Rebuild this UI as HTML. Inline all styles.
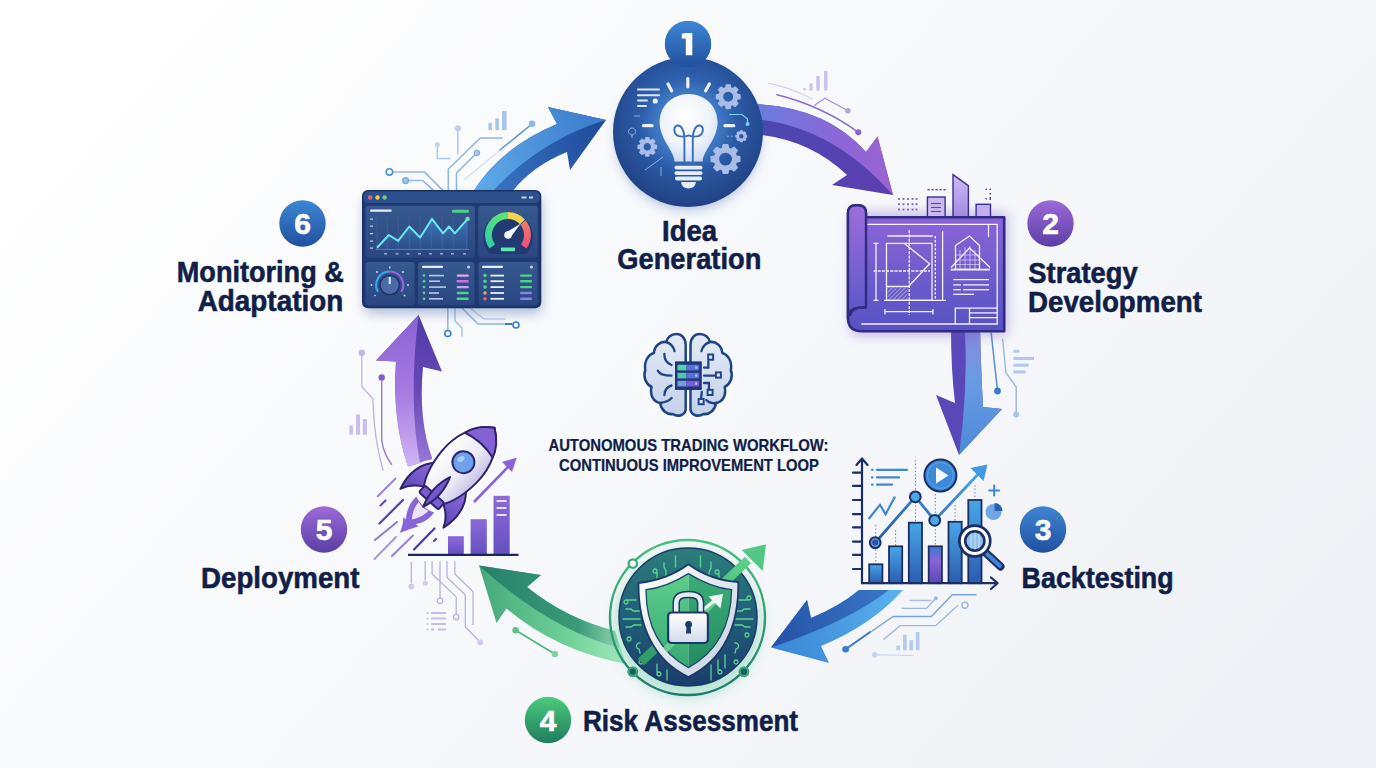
<!DOCTYPE html>
<html><head><meta charset="utf-8"><title>Autonomous Trading Workflow</title>
<style>
html,body{margin:0;padding:0;width:1376px;height:768px;overflow:hidden;background:#f4f6f9;}
svg{display:block;}
text{font-family:"Liberation Sans",sans-serif;font-weight:bold;}
</style></head>
<body>
<svg width="1376" height="768" viewBox="0 0 1376 768">
<defs>
  <linearGradient id="bg" x1="0" y1="0.25" x2="1" y2="0.75">
    <stop offset="0" stop-color="#ffffff"/>
    <stop offset="0.3" stop-color="#f9fafc"/>
    <stop offset="0.7" stop-color="#f4f6f9"/>
    <stop offset="1" stop-color="#eef1f5"/>
  </linearGradient>
  <radialGradient id="bgGlow" cx="0.5" cy="0.5" r="0.5">
    <stop offset="0" stop-color="#ffffff" stop-opacity="0.0"/>
    <stop offset="1" stop-color="#ffffff" stop-opacity="0"/>
  </radialGradient>
  <filter id="shadow" x="-30%" y="-30%" width="160%" height="160%">
    <feGaussianBlur stdDeviation="6"/>
  </filter>
  <filter id="blur2" x="-30%" y="-30%" width="160%" height="160%">
    <feGaussianBlur stdDeviation="2"/>
  </filter>
  <linearGradient id="badgeBlue" x1="0" y1="0" x2="0" y2="1">
    <stop offset="0" stop-color="#3d86d4"/><stop offset="1" stop-color="#22509f"/>
  </linearGradient>
  <linearGradient id="badgePurple" x1="0" y1="0" x2="0" y2="1">
    <stop offset="0" stop-color="#9c6ad8"/><stop offset="1" stop-color="#5a3ea6"/>
  </linearGradient>
  <linearGradient id="badgeGreen" x1="0" y1="0" x2="0" y2="1">
    <stop offset="0" stop-color="#4ccb7c"/><stop offset="1" stop-color="#1f7d5e"/>
  </linearGradient>
  <radialGradient id="ideaFill" cx="0.5" cy="0.42" r="0.62">
    <stop offset="0" stop-color="#3a78c8"/>
    <stop offset="0.5" stop-color="#2c5daa"/>
    <stop offset="1" stop-color="#1e3d7c"/>
  </radialGradient>
  <linearGradient id="a2top" x1="0" y1="0" x2="1" y2="0">
    <stop offset="0" stop-color="#6a7ee0"/><stop offset="0.6" stop-color="#8b67d6"/><stop offset="1" stop-color="#9a63d2"/>
  </linearGradient>
  <linearGradient id="a3right" x1="0" y1="0" x2="0" y2="1">
    <stop offset="0" stop-color="#8a88dc"/><stop offset="0.4" stop-color="#6a9be2"/><stop offset="1" stop-color="#4a8ad8"/>
  </linearGradient>
  <linearGradient id="a5low" x1="1" y1="0" x2="0" y2="0">
    <stop offset="0" stop-color="#a8e8c0"/><stop offset="0.35" stop-color="#72d49a"/><stop offset="1" stop-color="#45a87a"/>
  </linearGradient>
  <linearGradient id="a5top" x1="1" y1="0" x2="0" y2="0">
    <stop offset="0" stop-color="#8fd6b0"/><stop offset="0.3" stop-color="#3a9a78"/><stop offset="1" stop-color="#25806a"/>
  </linearGradient>
  <linearGradient id="a6left" x1="0" y1="1" x2="0" y2="0">
    <stop offset="0" stop-color="#d0b4f4"/><stop offset="0.5" stop-color="#a57ae0"/><stop offset="1" stop-color="#8a62d4"/>
  </linearGradient>
  <linearGradient id="a6right" x1="0" y1="1" x2="0" y2="0">
    <stop offset="0" stop-color="#9a7ad8"/><stop offset="0.5" stop-color="#6648b8"/><stop offset="1" stop-color="#4f3aa8"/>
  </linearGradient>
</defs>
<!-- background -->
<rect x="0" y="0" width="1376" height="768" fill="url(#bg)"/>

<g fill="none" stroke="#8fb6e4" stroke-width="1.5" stroke-linecap="round" stroke-linejoin="round"><path d="M464.7,179.4 L532.1,123.8" opacity="0.35"/><path d="M532.1,123.8 L500,150" stroke="#6a9ad8"/><path d="M476.9,152.9 L456.5,173 L456.5,190"/><path d="M502,138 L480.2,138 L448.3,169.3 L448.3,190"/><path d="M457.9,128.3 L457.9,153.8" opacity="0.7"/><path d="M437.3,144.7 L437.3,158.4 L450,158.4" opacity="0.7"/><path d="M389.4,171.9 L424.4,171.9 L443,190.6"/><path d="M405.6,180.6 L422.8,180.6 L433.8,190.6"/><path d="M447.8,308 L447.8,330"/><path d="M455,308 L455,321 L462,328 L462,336" opacity="0.8"/><path d="M462,308 L478,324 L512,324"/><path d="M470,308 L484,319 L505,319" opacity="0.6"/></g>
<g fill="#a8c6ec"><rect x="488.4" y="122.8" width="3.6" height="7.3"/><rect x="495.3" y="118.3" width="3.6" height="11.8"/><rect x="502" y="111" width="4.6" height="19.1"/></g>
<circle cx="532.1" cy="123.8" r="3.3" fill="#8fb8e8"/><circle cx="476.9" cy="152.9" r="2.8" fill="#a8c6ec" stroke="#7aa6dc" stroke-width="1"/><circle cx="457.9" cy="128.3" r="3" fill="#b8d0ee"/><circle cx="437.3" cy="144.7" r="2.6" fill="#c4d8f0"/>
<g fill="#ffffff" stroke="#4a90d8" stroke-width="1.6"><circle cx="389.4" cy="171.9" r="3.2"/><circle cx="405.6" cy="180.6" r="2.8" fill="#a8c8ec" stroke="#7aaee0"/></g>
<g fill="#ffffff" stroke="#3a7ad0" stroke-width="1.6"><circle cx="447.8" cy="333.5" r="3"/><circle cx="516" cy="325" r="3"/></g>
<path d="M505,324 L512,324" stroke="#3a7ad0" stroke-width="2"/>
<g fill="#cbc3ec"><rect x="809.4" y="83.3" width="3.2" height="7.3"/><rect x="816.3" y="76" width="3.5" height="14.6"/><rect x="824" y="70.8" width="3.5" height="19.8"/><circle cx="804.6" cy="89.2" r="1.4"/></g>
<g fill="none" stroke-linecap="round"><path d="M768.8,83.3 Q792,88 812.5,99" stroke="#c8c4e8" stroke-width="1.3" opacity="0.8"/><path d="M777,94.8 Q822,106 858.3,132.3" stroke="#8a6ad0" stroke-width="1.6"/><path d="M814.6,105.2 L825,98.3 L847.9,110.8" stroke="#a890dc" stroke-width="1.3"/></g>
<circle cx="858.3" cy="132.3" r="3" fill="#8a62d0"/><circle cx="847.9" cy="110.8" r="2.8" fill="#b8a4e4"/>
<g fill="none" stroke-linecap="round"><path d="M991.2,332.9 Q994,360 997.5,390.2" stroke="#5a8ed8" stroke-width="1.5"/><path d="M1002.7,339.2 L1005.8,372.5 L1016.2,387 L1016.2,414" stroke="#9ab8e4" stroke-width="1.4"/></g>
<circle cx="997.5" cy="391" r="3.4" fill="#3a7ad0"/><circle cx="1016.2" cy="414.5" r="3" fill="#a8c4ea"/>
<g fill="#b2c8ec"><rect x="1013.5" y="349.6" width="5.9" height="3.1"/><rect x="1013.5" y="356.9" width="20.5" height="3.1"/><rect x="1013.5" y="363.7" width="15.2" height="3"/><rect x="1013.5" y="370.4" width="12.1" height="3.1"/></g>
<g fill="none" stroke-linecap="round" stroke-linejoin="round"><path d="M845.6,649.3 L893,616.5 L931.3,616.5 L952.3,594.7 L976,594.7" stroke="#7aa4dc" stroke-width="1.4"/><path d="M845.6,649.3 L870,632" stroke="#3a7ad0" stroke-width="1.8"/><path d="M902,608.3 L926.7,608.3 L935.9,598.3" stroke="#9ab8e4" stroke-width="1.3"/><path d="M884,639.3 L900.3,625.6 L935.9,625.6 L957.7,605.6" stroke="#9ab8e4" stroke-width="1.3"/><path d="M910,600.5 L931,600.5" stroke="#a8c0e6" stroke-width="1.3"/><path d="M878,654.8 L913,655.5" stroke="#c8d6ee" stroke-width="1.2"/></g>
<circle cx="845.6" cy="649.3" r="3.3" fill="#3a7ad0"/><circle cx="965" cy="605.2" r="3" fill="#ffffff" stroke="#9ab8e4" stroke-width="1.4"/><circle cx="935.9" cy="598.3" r="2" fill="#9ab8e4"/><circle cx="874.8" cy="654.8" r="2.8" fill="#c4d4ee"/>
<g fill="#b4cbea"><rect x="896.3" y="645.7" width="3.7" height="4.6"/><rect x="903" y="634.8" width="3.7" height="15.5"/><rect x="909.4" y="640.2" width="3.6" height="10.1"/><rect x="915.8" y="632" width="3.7" height="18.3"/></g>
<line x1="515.6" y1="630.3" x2="554.8" y2="654" stroke="#4cb87a" stroke-width="1.6"/><circle cx="515.6" cy="630.3" r="3.2" fill="#5cc487"/><circle cx="554.8" cy="654" r="3.2" fill="#7ad4a0"/>
<g fill="none" stroke-linecap="round"><path d="M361.8,353 L361.8,386.8 L372.8,398.5 Q374,440 383,470" stroke="#c0b0e4" stroke-width="1.3"/><path d="M381.7,377.4 L381.7,440.7 Q384,455 391.6,464.2" stroke="#9a7ad4" stroke-width="1.4"/></g>
<circle cx="361.8" cy="352.8" r="3.2" fill="#c4b4e8"/><circle cx="381.7" cy="377.4" r="3.2" fill="#8060c8"/>
<g fill="#cabfea"><rect x="349.4" y="425.5" width="3.5" height="9.3"/><rect x="356" y="414.4" width="4" height="20.4"/><rect x="362.7" y="419.1" width="4.3" height="15.7"/></g>
<g fill="none" stroke="#b8b2e0" stroke-width="1.3" stroke-linejoin="round"><path d="M411.3,562 L411.3,583"/><path d="M425.2,561 L425.2,580.5"/><path d="M432.1,561 L432.1,574 L456.2,596.9 L456.2,614"/><path d="M440,561 L440,598"/><path d="M447,561 L447,577.3 L465.3,595 L465.3,626.8 L478.5,640.5"/><path d="M454.9,561 L454.9,574 L473.1,591.7 L473.1,624.9"/></g>
<g fill="#cfcaee"><circle cx="411.3" cy="586.5" r="2.9"/><circle cx="425.2" cy="583.2" r="2.5"/><circle cx="480.3" cy="642.4" r="2.9"/></g>
<g fill="#ffffff" stroke="#b8b2e0" stroke-width="1.3"><circle cx="440" cy="600.8" r="2.7"/><circle cx="456.2" cy="617" r="2.7"/></g>
<g fill="#c4bee6"><circle cx="427.5" cy="613" r="1.1"/><rect x="431" y="612" width="15" height="2"/><circle cx="427.5" cy="618.5" r="1.1"/><rect x="431" y="617.5" width="15" height="2"/><circle cx="427.5" cy="624" r="1.1"/><rect x="431" y="623" width="15" height="2"/><circle cx="427.5" cy="629.5" r="1.1"/><rect x="431" y="628.5" width="3" height="2"/><rect x="438" y="628.5" width="8" height="2"/></g>
<!-- ===== ARROWS ===== -->
<g id="arrows">
  <defs>
    <linearGradient id="a1dark" gradientUnits="userSpaceOnUse" x1="480" y1="190" x2="600" y2="125"><stop offset="0" stop-color="#3a78c8"/><stop offset="1" stop-color="#1f4b9a"/></linearGradient>
    <linearGradient id="a1light" gradientUnits="userSpaceOnUse" x1="480" y1="190" x2="600" y2="115"><stop offset="0" stop-color="#5eaaea"/><stop offset="1" stop-color="#3b7ccc"/></linearGradient>
    <linearGradient id="a2dark" gradientUnits="userSpaceOnUse" x1="752" y1="130" x2="890" y2="190"><stop offset="0" stop-color="#4c48b0"/><stop offset="1" stop-color="#5a3eb0"/></linearGradient>
    <linearGradient id="a4dark" gradientUnits="userSpaceOnUse" x1="890" y1="590" x2="775" y2="645"><stop offset="0" stop-color="#3a76c8"/><stop offset="1" stop-color="#2452a6"/></linearGradient>
    <linearGradient id="a4light" gradientUnits="userSpaceOnUse" x1="900" y1="590" x2="775" y2="650"><stop offset="0" stop-color="#5ab2ec"/><stop offset="1" stop-color="#3a86d6"/></linearGradient>
  </defs>
  <!-- arrow 1 blue: dashboard -> idea -->
  <path d="M473,192 Q500,148 557,124 L548,107 L606,120 L570,170 L567,152 Q532,166 512,192 Z" fill="url(#a1dark)"/>
  <path d="M473,192 Q500,148 557,124 L548,107 L606,120 Q540,140 492,192 Z" fill="url(#a1light)"/>
  <!-- arrow 2 purple: idea -> strategy -->
  <path d="M752,104 Q825,106 866,152 L877.5,136.5 L893,195 L832,185 L847,175 Q808,138 752,134 Z" fill="url(#a2dark)"/>
  <path d="M752,104 Q825,106 866,152 L877.5,136.5 L893,195 Q830,124 752,119 Z" fill="url(#a2top)"/>
  <!-- arrow 3: strategy -> backtesting -->
  <path d="M951,328 Q951,370 955,403 L936,395 L959,455 L1002,409 L983,407 Q981,370 980,328 Z" fill="#5a48b8"/>
  <path d="M965,328 Q968,390 959,455 L1002,409 L983,407 Q981,370 980,328 Z" fill="url(#a3right)"/>
  <!-- arrow 4 blue: backtesting -> risk -->
  <path d="M859,590 Q840,606 811,618 L807,600 L771,647.5 L829,663 L821,646 Q872,625 903,590 Z" fill="url(#a4light)"/>
  <path d="M859,590 Q840,606 811,618 L807,600 L771,647.5 Q848,622 889,590 Z" fill="url(#a4dark)"/>
  <!-- arrow 5 green: risk -> deployment -->
  <path d="M615,631 Q565,618 527,587 L541,575 L479,565.5 L496.5,623 L506.5,608.4 Q555,650 626,664 Z" fill="url(#a5low)"/>
  <path d="M615,631 Q565,618 527,587 L541,575 L479,565.5 Q550,630 620,648 Z" fill="url(#a5top)"/>
  <!-- arrow 6 purple: deployment -> monitoring -->
  <path d="M396,361.5 L376,360.5 L418.6,315 L442,371.5 L423,367 Q418,420 432.6,459.5 L408,466.5 Q392,420 396,361.5 Z" fill="url(#a6right)"/>
  <path d="M396,361.5 L376,360.5 L418.6,315 Q408,400 420,463 L408,466.5 Q392,420 396,361.5 Z" fill="url(#a6left)"/>
</g>

<!-- ===== IDEA ===== -->
<g id="idea">
  <circle cx="688" cy="138" r="72" fill="#2a57a8" opacity="0.35" filter="url(#shadow)"/>
  <circle cx="688" cy="132" r="75" fill="url(#ideaFill)"/>
  <circle cx="688" cy="125" r="40" fill="#5a9be0" opacity="0.35" filter="url(#shadow)"/>
<g stroke="#eef3fb" stroke-width="3.2" stroke-linecap="round"><line x1="668" y1="84" x2="671.6" y2="90.8"/><line x1="687.8" y1="78.5" x2="687.8" y2="86.8"/><line x1="709.4" y1="84" x2="705.6" y2="90.8"/><line x1="643.5" y1="125.7" x2="652" y2="125.7"/><line x1="725" y1="125.7" x2="733.8" y2="125.7"/></g>
<g stroke="#dfe8f7" stroke-width="2" stroke-linecap="round"><line x1="638" y1="89.6" x2="659" y2="89.6"/><line x1="638" y1="95.2" x2="659" y2="95.2"/><line x1="638" y1="100.4" x2="647" y2="100.4"/><line x1="638" y1="106" x2="646" y2="106"/></g><circle cx="655.2" cy="101" r="2.6" fill="#eef3fb"/>
<path d="M737.03,94.13 L740.04,94.73 L740.04,98.67 L737.03,99.27 L736.26,101.13 L737.96,103.68 L735.18,106.46 L732.63,104.76 L730.77,105.53 L730.17,108.54 L726.23,108.54 L725.63,105.53 L723.77,104.76 L721.22,106.46 L718.44,103.68 L720.14,101.13 L719.37,99.27 L716.36,98.67 L716.36,94.73 L719.37,94.13 L720.14,92.27 L718.44,89.72 L721.22,86.94 L723.77,88.64 L725.63,87.87 L726.23,84.86 L730.17,84.86 L730.77,87.87 L732.63,88.64 L735.18,86.94 L737.96,89.72 L736.26,92.27 Z M722.60,96.70 a5.60,5.60 0 1,0 11.20,0 a5.60,5.60 0 1,0 -11.20,0 Z" fill="#a9bde6" fill-rule="evenodd" stroke="#a9bde6" stroke-width="1.2" stroke-linejoin="round"/>
<path d="M654.21,144.79 L656.57,145.26 L656.57,148.34 L654.21,148.81 L653.61,150.27 L654.95,152.27 L652.77,154.45 L650.77,153.11 L649.31,153.71 L648.84,156.07 L645.76,156.07 L645.29,153.71 L643.83,153.11 L641.83,154.45 L639.65,152.27 L640.99,150.27 L640.39,148.81 L638.03,148.34 L638.03,145.26 L640.39,144.79 L640.99,143.33 L639.65,141.33 L641.83,139.15 L643.83,140.49 L645.29,139.89 L645.76,137.53 L648.84,137.53 L649.31,139.89 L650.77,140.49 L652.77,139.15 L654.95,141.33 L653.61,143.33 Z M643.00,146.80 a4.30,4.30 0 1,0 8.60,0 a4.30,4.30 0 1,0 -8.60,0 Z" fill="#a9bde6" fill-rule="evenodd" stroke="#a9bde6" stroke-width="1.2" stroke-linejoin="round"/>
<path d="M736.26,155.98 L739.90,156.70 L739.90,161.50 L736.26,162.22 L735.31,164.50 L737.38,167.59 L733.99,170.98 L730.90,168.91 L728.62,169.86 L727.90,173.50 L723.10,173.50 L722.38,169.86 L720.10,168.91 L717.01,170.98 L713.62,167.59 L715.69,164.50 L714.74,162.22 L711.10,161.50 L711.10,156.70 L714.74,155.98 L715.69,153.70 L713.62,150.61 L717.01,147.22 L720.10,149.29 L722.38,148.34 L723.10,144.70 L727.90,144.70 L728.62,148.34 L730.90,149.29 L733.99,147.22 L737.38,150.61 L735.31,153.70 Z M718.50,159.10 a7.00,7.00 0 1,0 14.00,0 a7.00,7.00 0 1,0 -14.00,0 Z" fill="#a9bde6" fill-rule="evenodd" stroke="#a9bde6" stroke-width="1.2" stroke-linejoin="round"/>
<path d="M745.33,135.03 L746.63,135.31 L746.63,137.09 L745.33,137.37 L744.98,138.22 L745.69,139.34 L744.44,140.59 L743.32,139.88 L742.47,140.23 L742.19,141.53 L740.41,141.53 L740.13,140.23 L739.28,139.88 L738.16,140.59 L736.91,139.34 L737.62,138.22 L737.27,137.37 L735.97,137.09 L735.97,135.31 L737.27,135.03 L737.62,134.18 L736.91,133.06 L738.16,131.81 L739.28,132.52 L740.13,132.17 L740.41,130.87 L742.19,130.87 L742.47,132.17 L743.32,132.52 L744.44,131.81 L745.69,133.06 L744.98,134.18 Z M738.50,136.20 a2.80,2.80 0 1,0 5.60,0 a2.80,2.80 0 1,0 -5.60,0 Z" fill="#a9bde6" fill-rule="evenodd" stroke="#a9bde6" stroke-width="1.2" stroke-linejoin="round"/>
<g fill="none" stroke="#7fd0f0" stroke-width="1.2"><path d="M729,114.5 L742,114.5 L747.5,119 L747.5,122"/></g><circle cx="747.5" cy="124" r="2" fill="#6fd3f0"/><g fill="none" stroke="#8fb0e0" stroke-width="1"><line x1="727" y1="136.2" x2="734" y2="136.2" stroke-dasharray="2,2"/><path d="M634,116 L640,116 M632,128 a3.5,3.5 0 1,0 0.1,0 M632,134 L632,138"/><path d="M645,170 L663,157 M661,167 L661,176"/></g>
<defs><radialGradient id="bulbG" cx="0.45" cy="0.35" r="0.7"><stop offset="0" stop-color="#ffffff"/><stop offset="0.6" stop-color="#eef3fb"/><stop offset="1" stop-color="#c9d8f0"/></radialGradient></defs>
<path d="M674.6,161.5 C674,150 660,140 659.6,122.5 C659.6,106 672.5,94 688.6,94 C704.7,94 717.6,106 717.6,122.5 C717.2,140 703.2,150 702.6,161.5 Z" fill="url(#bulbG)"/>
<path d="M684.4,162 L684.4,138 C684.4,131 681.5,125 677.5,125.5 C672.8,126.5 673.5,134.5 679,136.2 C682,137 685.5,136.6 688.6,135.4 C691.7,136.6 695.2,137 698.2,136.2 C703.7,134.5 704.4,126.5 699.7,125.5 C695.7,125 692.8,131 692.8,138 L692.8,162" fill="none" stroke="#3a6fc0" stroke-width="1.9" stroke-linecap="round" stroke-linejoin="round"/>
<g fill="#e6edf8"><rect x="674.5" y="165.8" width="28" height="3.8" rx="1.8"/><rect x="674.5" y="171.2" width="28" height="3.8" rx="1.8"/><rect x="675" y="176.6" width="27" height="3.8" rx="1.8"/><path d="M681,182 L696,182 Q695,188.5 688.5,188.5 Q682,188.5 681,182 Z"/></g>
  <circle cx="688" cy="44" r="23" fill="url(#badgeBlue)"/>
</g>

<rect x="364" y="196" width="178" height="118" rx="8" fill="#2a4f9a" opacity="0.35" filter="url(#shadow)"/>
<rect x="362" y="190" width="179.3" height="118.3" rx="6" fill="#1b3166"/>
<rect x="363.5" y="191.5" width="176.3" height="115.3" rx="5" fill="#1f3a72"/>
<defs><linearGradient id="panG" x1="0" y1="0" x2="0" y2="1"><stop offset="0" stop-color="#37598f"/><stop offset="1" stop-color="#2a4682"/></linearGradient></defs><rect x="363.5" y="191.5" width="176.3" height="11.5" rx="5" fill="#2d4f8c"/>
<circle cx="370.2" cy="197.5" r="2.2" fill="#e8607e"/><circle cx="377.5" cy="197.5" r="2.2" fill="#e6d452"/><circle cx="384.6" cy="197.5" r="2.2" fill="#66d47e"/>
<rect x="521.5" y="196.5" width="5" height="2" fill="#c8d4ea"/><rect x="529" y="196.5" width="4" height="2" fill="#c8d4ea"/>
<g fill="url(#panG)"><rect x="365.5" y="205.7" width="109.4" height="52.1" rx="3"/><rect x="478.3" y="205.7" width="59.6" height="52.1" rx="3"/><rect x="365.5" y="262" width="49.1" height="43.2" rx="3"/><rect x="418" y="262" width="56.4" height="43.2" rx="3"/><rect x="478.6" y="262" width="59" height="43.2" rx="3"/></g>
<rect x="370" y="209.5" width="21.7" height="2.2" rx="1" fill="#e8eef8"/>
<rect x="452" y="209.8" width="17" height="3" rx="1" fill="#4fd08a"/>
<defs><linearGradient id="chFill" x1="0" y1="0" x2="0" y2="1"><stop offset="0" stop-color="#3d8fd8" stop-opacity="0.55"/><stop offset="1" stop-color="#3d8fd8" stop-opacity="0.05"/></linearGradient></defs>
<g stroke="#4a6aa8" stroke-width="0.6"><line x1="377.0" y1="217" x2="377.0" y2="249.4"/><line x1="387.2" y1="217" x2="387.2" y2="249.4"/><line x1="398.2" y1="217" x2="398.2" y2="249.4"/><line x1="409.2" y1="217" x2="409.2" y2="249.4"/><line x1="420.2" y1="217" x2="420.2" y2="249.4"/><line x1="431.2" y1="217" x2="431.2" y2="249.4"/><line x1="442.2" y1="217" x2="442.2" y2="249.4"/><line x1="453.2" y1="217" x2="453.2" y2="249.4"/><line x1="466.8" y1="217" x2="466.8" y2="249.4"/></g>
<polygon points="377.0,247.7 388.9,235.0 398.2,240.9 409.2,226.5 420.2,237.5 432.0,218.9 443.0,233.3 449.0,226.5 454.9,233.3 467.6,218.9 467.6,249.4 377,249.4" fill="url(#chFill)"/>
<polyline points="377.0,247.7 388.9,235.0 398.2,240.9 409.2,226.5 420.2,237.5 432.0,218.9 443.0,233.3 449.0,226.5 454.9,233.3 467.6,218.9" fill="none" stroke="#6ae6f4" stroke-width="2" stroke-linejoin="round"/>
<circle cx="467.6" cy="218.9" r="2.2" fill="#6fe0c0"/>
<line x1="376" y1="249.4" x2="469" y2="249.4" stroke="#6a8ac0" stroke-width="0.8"/>
<g fill="#c0cde6"><rect x="370" y="218.5" width="3.2" height="1.2"/><rect x="370" y="225.5" width="3.2" height="1.2"/><rect x="370" y="233.0" width="3.2" height="1.2"/><rect x="370" y="240.5" width="3.2" height="1.2"/><rect x="370" y="247.5" width="3.2" height="1.2"/><rect x="384.0" y="253.3" width="3" height="1.1"/><rect x="395.5" y="253.3" width="3" height="1.1"/><rect x="406.5" y="253.3" width="3" height="1.1"/><rect x="418.0" y="253.3" width="3" height="1.1"/><rect x="429.0" y="253.3" width="3" height="1.1"/><rect x="440.0" y="253.3" width="3" height="1.1"/><rect x="451.0" y="253.3" width="3" height="1.1"/><rect x="463.0" y="253.3" width="3" height="1.1"/></g>
<path d="M489.5,253.9 A25,25 0 1,1 526.5,253.9 Z" fill="#213b72"/>
<defs><linearGradient id="gGreen" x1="0" y1="1" x2="0.6" y2="0"><stop offset="0" stop-color="#2cd0a0"/><stop offset="1" stop-color="#5ee07a"/></linearGradient><linearGradient id="gRed" x1="0" y1="0" x2="0" y2="1"><stop offset="0" stop-color="#f07a6a"/><stop offset="1" stop-color="#f0507a"/></linearGradient></defs>
<path d="M492.22,246.46 A19.50,19.50 0 0,1 508.00,215.50" fill="none" stroke="url(#gGreen)" stroke-width="6.8"/>
<path d="M508.00,215.50 A19.50,19.50 0 0,1 522.49,221.95" fill="none" stroke="#f2d452" stroke-width="6.8"/>
<path d="M522.94,222.47 A19.50,19.50 0 0,1 523.78,246.46" fill="none" stroke="url(#gRed)" stroke-width="6.8"/>
<path d="M505.6,232.6 L520.6,223.8 L510.4,237.4 Z" fill="#f4f6fb"/><circle cx="508" cy="235" r="3.8" fill="#f4f6fb"/>
<rect x="500.9" y="247.5" width="14.1" height="3.8" rx="0.8" fill="#5ee8b4"/>
<path d="M378.01,291.75 A13.50,13.50 0 0,1 389.70,271.50" fill="none" stroke="#3aa4e8" stroke-width="2.2"/>
<path d="M389.70,271.50 A13.50,13.50 0 0,1 401.39,291.75" fill="none" stroke="#9a62d8" stroke-width="2.2"/>
<circle cx="389.7" cy="285" r="10.5" fill="#1e3466"/><circle cx="389.7" cy="285" r="9" fill="#4a6ba8"/>
<line x1="389.7" y1="277" x2="389.7" y2="284" stroke="#f4f6fb" stroke-width="1.8"/>
<g fill="#c8d4ea"><rect x="389" y="266.5" width="1.5" height="2"/><circle cx="377" cy="272" r="1"/><circle cx="403" cy="272" r="1"/><circle cx="371.5" cy="285" r="1"/><circle cx="408" cy="285" r="1"/><circle cx="375" cy="295.5" r="0.8"/><circle cx="404.5" cy="295.5" r="1"/></g>
<rect x="422" y="265.8" width="21" height="2.2" rx="1" fill="#e8eef8"/><circle cx="468.5" cy="267" r="1.5" fill="#c8d4ea"/>
<rect x="482" y="265.8" width="21" height="2.2" rx="1" fill="#e8eef8"/><circle cx="531.5" cy="267" r="1.5" fill="#c8d4ea"/>
<circle cx="424" cy="275.6" r="1.4" fill="#4fd08a"/><rect x="429" y="274.8" width="15" height="1.6" fill="#b8c8e6"/><rect x="456.6" y="274.4" width="12.2" height="2.4" rx="1" fill="#e0a8f0"/>
<circle cx="424" cy="281.2" r="1.4" fill="#4fd08a"/><rect x="429" y="280.4" width="11" height="1.6" fill="#b8c8e6"/><rect x="456.6" y="280.0" width="12.2" height="2.4" rx="1" fill="#d070e8"/>
<circle cx="424" cy="287.1" r="1.4" fill="#4fd08a"/><rect x="429" y="286.3" width="17" height="1.6" fill="#b8c8e6"/><rect x="456.6" y="285.9" width="12.2" height="2.4" rx="1" fill="#c8a0f0"/>
<circle cx="424" cy="293.0" r="1.4" fill="#4fd08a"/><rect x="429" y="292.2" width="10" height="1.6" fill="#b8c8e6"/><rect x="456.6" y="291.8" width="12.2" height="2.4" rx="1" fill="#4fd08a"/>
<circle cx="424" cy="298.8" r="1.4" fill="#4fd08a"/><rect x="429" y="298.0" width="14" height="1.6" fill="#b8c8e6"/><rect x="456.6" y="297.6" width="12.2" height="2.4" rx="1" fill="#4fd08a"/>
<circle cx="485" cy="275.6" r="1.8" fill="#4fd08a"/><rect x="490.5" y="274.7" width="13.5" height="1.8" fill="#e8eef8"/><rect x="520" y="274.4" width="12" height="2.4" rx="1" fill="#4fd08a"/>
<circle cx="485" cy="281.2" r="1.8" fill="#4fd08a"/><rect x="490.5" y="280.3" width="13.5" height="1.8" fill="#e8eef8"/><rect x="520" y="280.0" width="12" height="2.4" rx="1" fill="#4fd08a"/>
<circle cx="485" cy="287.1" r="1.8" fill="#4fd08a"/><rect x="490.5" y="286.2" width="13.5" height="1.8" fill="#e8eef8"/><rect x="520" y="285.9" width="12" height="2.4" rx="1" fill="#4fd08a"/>
<circle cx="485" cy="293.0" r="1.8" fill="#f0a060"/><rect x="490.5" y="292.1" width="13.5" height="1.8" fill="#e8eef8"/><rect x="520" y="291.8" width="12" height="2.4" rx="1" fill="#8a80e8"/>
<circle cx="485" cy="298.8" r="1.8" fill="#f06070"/><rect x="490.5" y="297.9" width="13.5" height="1.8" fill="#e8eef8"/><rect x="520" y="297.6" width="12" height="2.4" rx="1" fill="#8a80e8"/>
<defs><linearGradient id="bpG" x1="0" y1="0" x2="0" y2="1"><stop offset="0" stop-color="#8f66da"/><stop offset="0.55" stop-color="#6f5ccc"/><stop offset="1" stop-color="#5552c4"/></linearGradient><linearGradient id="bpRoll" x1="0" y1="0" x2="0" y2="1"><stop offset="0" stop-color="#9c6ed8"/><stop offset="1" stop-color="#5a56c8"/></linearGradient><linearGradient id="bldG" x1="0" y1="0" x2="0" y2="1"><stop offset="0" stop-color="#cdb9f4"/><stop offset="1" stop-color="#9f8ae2"/></linearGradient><pattern id="hatch" width="3" height="3" patternUnits="userSpaceOnUse" patternTransform="rotate(45)"><line x1="0" y1="0" x2="0" y2="3" stroke="#f0ecff" stroke-width="0.9"/></pattern></defs>
<rect x="850" y="212" width="158" height="124" rx="6" fill="#6a50c0" opacity="0.35" filter="url(#shadow)"/>
<g stroke="#3b2f90" stroke-width="1.4"><polygon points="953,174.6 968.4,185.6 968.4,218 953,218" fill="url(#bldG)"/><rect x="927.4" y="197" width="17.7" height="21" fill="#cbbaf2"/><rect x="976.1" y="204.3" width="14.4" height="14" fill="#c2b0ee"/></g>
<g stroke="#5a4ab0" stroke-width="1.1"><line x1="931" y1="203.5" x2="941" y2="203.5"/><line x1="931" y1="207.5" x2="941" y2="207.5"/><line x1="931" y1="211.5" x2="941" y2="211.5"/></g>
<rect x="898.1" y="198.1" width="1.8" height="1.8" fill="#6a5ac4"/><rect x="902.6" y="198.1" width="1.8" height="1.8" fill="#6a5ac4"/><rect x="907.1" y="198.1" width="1.8" height="1.8" fill="#6a5ac4"/><rect x="911.6" y="198.1" width="1.8" height="1.8" fill="#6a5ac4"/><rect x="915.6" y="198.1" width="1.8" height="1.8" fill="#6a5ac4"/><rect x="898.1" y="203.3" width="1.8" height="1.8" fill="#6a5ac4"/><rect x="902.6" y="203.3" width="1.8" height="1.8" fill="#6a5ac4"/><rect x="907.1" y="203.3" width="1.8" height="1.8" fill="#6a5ac4"/><rect x="911.6" y="203.3" width="1.8" height="1.8" fill="#6a5ac4"/><rect x="915.6" y="203.3" width="1.8" height="1.8" fill="#6a5ac4"/><rect x="898.1" y="208.6" width="1.8" height="1.8" fill="#6a5ac4"/><rect x="902.6" y="208.6" width="1.8" height="1.8" fill="#6a5ac4"/><rect x="907.1" y="208.6" width="1.8" height="1.8" fill="#6a5ac4"/><rect x="911.6" y="208.6" width="1.8" height="1.8" fill="#6a5ac4"/><rect x="915.6" y="208.6" width="1.8" height="1.8" fill="#6a5ac4"/><rect x="927.5" y="189" width="2.2" height="1.4" fill="#5a4ab0"/><rect x="931.5" y="189" width="2.2" height="1.4" fill="#5a4ab0"/><rect x="935.5" y="189" width="2.2" height="1.4" fill="#5a4ab0"/><rect x="939.5" y="189" width="2.2" height="1.4" fill="#5a4ab0"/><rect x="943.5" y="189" width="2.2" height="1.4" fill="#5a4ab0"/><rect x="985.5" y="188.5" width="1.5" height="1.5" fill="#5a4ab0"/><rect x="989.5" y="188.5" width="1.5" height="1.5" fill="#5a4ab0"/><rect x="989.5" y="193" width="1.5" height="1.5" fill="#5a4ab0"/><rect x="985.5" y="198" width="1.5" height="1.5" fill="#5a4ab0"/><rect x="989.5" y="197" width="1.5" height="3" fill="#5a4ab0"/>
<path d="M866,217.3 L1004.2,217.3 L1004.2,331.2 L862,331.2 Q848,331.2 848,318 L848,213 Q848,205.4 856,205.4 L858,205.4 Q866,205.4 866,213 Z" fill="url(#bpG)" stroke="#2f2a82" stroke-width="2.6" stroke-linejoin="round"/>
<path d="M848,213 Q848,205.4 856,205.4 L858,205.4 Q866,205.4 866,213 L866,307.5 L862,307.5 Q848,307.5 848,319 Z" fill="url(#bpRoll)" stroke="#2f2a82" stroke-width="2.4" stroke-linejoin="round"/>
<path d="M866,307.5 L862,307.5 Q852,307.5 850,316" fill="none" stroke="#2f2a82" stroke-width="2"/>
<g fill="none" stroke="#f4f0ff" stroke-width="1.3"><path d="M867.5,224.3 L997.2,224.3 L997.2,324 L861.3,324"/><rect x="886.5" y="243.4" width="45.5" height="56.9"/><path d="M904.4,243.4 L929.6,263.7 L908.5,286.5 L887,286.5"/><line x1="909.3" y1="230.3" x2="909.3" y2="315" stroke-dasharray="3,1.2"/><line x1="873.5" y1="271" x2="930" y2="271" stroke-dasharray="3,1.2"/><path d="M876,243.4 L876,300.3 M873.5,243.4 L878.5,243.4 M873.5,300.3 L878.5,300.3"/><path d="M887.3,236 L932.9,236 M884.9,311.7 L932.9,311.7 M884.9,309 L884.9,314.5 M932.9,309 L932.9,314.5"/><line x1="942.6" y1="231" x2="942.6" y2="300.3"/><line x1="935.3" y1="236" x2="935.3" y2="300.3" stroke-dasharray="2.5,1.5"/><line x1="884" y1="300.3" x2="946" y2="300.3"/><path d="M955.5,245.5 L969.5,236 L979.5,245.5 L979.5,269.4 L955.5,269.4 Z"/><path d="M951,267.5 L969.5,248 L990,267.5"/><line x1="950.8" y1="269.6" x2="989.8" y2="269.6" stroke-width="1.6"/><line x1="953.2" y1="279.6" x2="989" y2="279.6"/><line x1="953.2" y1="284.9" x2="961" y2="284.9"/><line x1="963" y1="284.9" x2="989" y2="284.9"/><line x1="953.2" y1="289.7" x2="961" y2="289.7"/><line x1="963" y1="289.7" x2="989" y2="289.7"/><line x1="953.2" y1="294.3" x2="974" y2="294.3"/><path d="M955.3,324 L955.3,308.1 L997.2,308.1 M969.5,308.1 L969.5,324 M969.5,312.8 L997.2,312.8 M969.5,317.6 L997.2,317.6"/><path d="M988.5,225 L988.5,237"/></g>
<g fill="none" stroke="#e8e0ff" stroke-width="0.8" opacity="0.8"><path d="M960,250 L960,269 M965,247 L965,269 M970,246 L970,269 M975,250 L975,269 M956,255 L980,255 M956,260 L980,260 M956,264.5 L980,264.5"/></g>
<rect x="887.5" y="287.5" width="20" height="12" fill="url(#hatch)"/>
<defs><linearGradient id="barG" x1="0" y1="0" x2="0" y2="1"><stop offset="0" stop-color="#48a6e6"/><stop offset="1" stop-color="#2c5cb0"/></linearGradient><linearGradient id="barP" x1="0" y1="0" x2="0" y2="1"><stop offset="0" stop-color="#3a7ad0"/><stop offset="0.4" stop-color="#8a62d8"/><stop offset="1" stop-color="#5a48b8"/></linearGradient><linearGradient id="lineG" x1="0" y1="1" x2="1" y2="0"><stop offset="0" stop-color="#2a56aa"/><stop offset="1" stop-color="#48a6e6"/></linearGradient></defs>
<g stroke="#5a7ac0" stroke-width="0.9" stroke-dasharray="1.5,2"><line x1="875.8" y1="525.0" x2="875.8" y2="564.0"/><line x1="895.6" y1="530.0" x2="895.6" y2="546.0"/><line x1="915.4" y1="460.0" x2="915.4" y2="522.0"/><line x1="935.3" y1="494.0" x2="935.3" y2="546.0"/><line x1="955.1" y1="505.0" x2="955.1" y2="522.0"/><line x1="974.9" y1="485.0" x2="974.9" y2="500.0"/></g>
<rect x="869.2" y="564.3" width="13.2" height="18.9" fill="url(#barG)" stroke="#1b2f66" stroke-width="1.8"/>
<rect x="889.0" y="546.3" width="13.2" height="36.9" fill="url(#barG)" stroke="#1b2f66" stroke-width="1.8"/>
<rect x="908.8" y="522.7" width="13.2" height="60.5" fill="url(#barG)" stroke="#1b2f66" stroke-width="1.8"/>
<rect x="928.7" y="546.3" width="13.2" height="36.9" fill="url(#barP)" stroke="#1b2f66" stroke-width="1.8"/>
<rect x="948.5" y="521.8" width="13.2" height="61.4" fill="url(#barG)" stroke="#1b2f66" stroke-width="1.8"/>
<rect x="968.3" y="500.0" width="13.2" height="83.2" fill="url(#barG)" stroke="#1b2f66" stroke-width="1.8"/>
<g fill="none" stroke="#1b2f66" stroke-width="2.2" stroke-linecap="round" stroke-linejoin="round"><path d="M862,583.2 L862,459 M856.5,465 L862,458.5 L867.5,465"/><path d="M862,583.2 L997,583.2 M991,577.5 L997.5,583.2 L991,589"/><line x1="853" y1="472.7" x2="862" y2="472.7"/><line x1="853" y1="485.9" x2="862" y2="485.9"/><line x1="853" y1="500.0" x2="862" y2="500.0"/><line x1="853" y1="514.2" x2="862" y2="514.2"/><line x1="853" y1="527.4" x2="862" y2="527.4"/><line x1="853" y1="541.6" x2="862" y2="541.6"/><line x1="853" y1="554.8" x2="862" y2="554.8"/><line x1="853" y1="569.0" x2="862" y2="569.0"/></g>
<g stroke="#3f86d6" stroke-width="2.2" stroke-linecap="round"><line x1="872" y1="469.8" x2="872.5" y2="469.8"/><line x1="877" y1="469.8" x2="907" y2="469.8"/><line x1="872" y1="477.4" x2="872.5" y2="477.4"/><line x1="877" y1="477.4" x2="899" y2="477.4"/><line x1="872" y1="484.6" x2="872.5" y2="484.6"/><line x1="877" y1="484.6" x2="892" y2="484.6"/></g>
<polyline points="868.6,519 880,504.8 885.6,514.2 895,496.5" fill="none" stroke="#3f86d6" stroke-width="2.2" stroke-linejoin="miter"/>
<polyline points="875.2,542.6 915.3,496.8 934.7,520.3 983,469" fill="none" stroke="url(#lineG)" stroke-width="2.8" stroke-linejoin="round"/>
<polygon points="987.5,464.5 970.5,468 983.5,481" fill="#3f9ae0"/>
<circle cx="875.2" cy="542.6" r="5.4" fill="#4aa8e8" stroke="#1b2f66" stroke-width="2"/>
<circle cx="915.3" cy="496.8" r="5.4" fill="#4aa8e8" stroke="#1b2f66" stroke-width="2"/>
<circle cx="934.7" cy="520.3" r="5.4" fill="#4aa8e8" stroke="#1b2f66" stroke-width="2"/>
<circle cx="875.2" cy="542.6" r="3" fill="#3a4ea8"/>
<circle cx="940.4" cy="475.5" r="16" fill="#3e8ad8" stroke="#1b2f66" stroke-width="2"/>
<circle cx="940.4" cy="475.5" r="13" fill="none" stroke="#6ab4f0" stroke-width="1" opacity="0.6"/>
<polygon points="936,467.5 936,483.5 948.5,475.5" fill="#f4f8ff"/>
<g stroke="#3f86d6" stroke-width="2" stroke-linecap="round"><line x1="994.2" y1="485.5" x2="994.2" y2="495.5"/><line x1="989.2" y1="490.6" x2="999.2" y2="490.6"/></g>
<circle cx="993.5" cy="512" r="8" fill="#6fa6e4"/><path d="M994.5,503 L994.5,511 L1002.5,511 A8,8 0 0,0 994.5,503 Z" fill="#2a5cb0"/>
<line x1="986" y1="553" x2="1000.5" y2="566.5" stroke="#1b2f66" stroke-width="8" stroke-linecap="round"/>
<line x1="987" y1="554" x2="1000" y2="566" stroke="#3f86d6" stroke-width="4" stroke-linecap="round"/>
<circle cx="974.8" cy="541" r="15.4" fill="#ffffff" stroke="#1b2f66" stroke-width="2.8"/>
<circle cx="974.8" cy="541" r="9.6" fill="#8fc0ea" stroke="#1b2f66" stroke-width="2.6"/>
<g stroke="#dcecfb" stroke-width="0.9" opacity="0.8"><line x1="971" y1="533.5" x2="971" y2="548.5"/><line x1="975" y1="532.5" x2="975" y2="549.5"/><line x1="979" y1="533.5" x2="979" y2="548.5"/></g>
<defs><linearGradient id="riskBg" x1="0" y1="0" x2="0" y2="1"><stop offset="0" stop-color="#2c7e7a"/><stop offset="0.45" stop-color="#22617a"/><stop offset="1" stop-color="#1b3c6c"/></linearGradient><linearGradient id="ringG" x1="0" y1="0" x2="0" y2="1"><stop offset="0" stop-color="#47c27e"/><stop offset="1" stop-color="#1f7a70"/></linearGradient><linearGradient id="shieldOut" x1="0" y1="0" x2="1" y2="1"><stop offset="0" stop-color="#ffffff"/><stop offset="1" stop-color="#c4d0e0"/></linearGradient><linearGradient id="shL" x1="0" y1="0" x2="0" y2="1"><stop offset="0" stop-color="#5ccf8c"/><stop offset="1" stop-color="#38a874"/></linearGradient><linearGradient id="shR" x1="0" y1="0" x2="0" y2="1"><stop offset="0" stop-color="#3aae76"/><stop offset="1" stop-color="#248a62"/></linearGradient><linearGradient id="lockG" x1="0" y1="0" x2="0" y2="1"><stop offset="0" stop-color="#ffffff"/><stop offset="1" stop-color="#d2dcea"/></linearGradient><linearGradient id="rArrow" x1="0" y1="1" x2="1" y2="0"><stop offset="0" stop-color="#2e9a68"/><stop offset="1" stop-color="#5cd08a"/></linearGradient></defs>
<circle cx="688" cy="624" r="74" fill="#4cc890" opacity="0.35" filter="url(#shadow)"/>
<circle cx="687.5" cy="617.5" r="77.5" fill="none" stroke="url(#ringG)" stroke-width="2.4"/>
<circle cx="688" cy="617" r="69" fill="url(#riskBg)" stroke="#1b3a68" stroke-width="1.5"/>
<g fill="none" stroke="#5ad690" stroke-width="1.3" stroke-linecap="round"><path d="M657,571 L657,578 M655,569 a2,2 0 1,0 0.1,0"/><path d="M664,563 L664,567 L666,571 L666,577"/><path d="M675.5,556 L675.5,567"/><path d="M700.5,556 L700.5,567"/><path d="M711,562 L711,568 L709,572 L709,577"/><path d="M719,572 L719,579 M717,570 a2,2 0 1,0 0.1,0"/><path d="M628,600 L636,600 M626,600 a2,2 0 1,0 0.1,0"/><path d="M626,609 L631,609 L633,611 L640,611"/><path d="M623,619 L640,619"/><path d="M626,627 L631,627 L634,625 L641,625"/><path d="M629,637 a2,2 0 1,0 0.1,0"/><path d="M640,643 a3,3 0 1,0 -1,6 L640,653 M641,660 a2,2 0 1,0 0.1,0"/><path d="M747,600 L739,600 M749,600 a2,2 0 1,0 -0.1,0"/><path d="M750,609 L744,609 L742,611 L736,611"/><path d="M753,619 L736,619"/><path d="M750,627 L745,627 L742,625 L735,625"/><path d="M747,637 a2,2 0 1,0 -0.1,0"/><path d="M735,643 a3,3 0 1,1 1,6 L735,653 M736,660 a2,2 0 1,0 0.1,0"/><path d="M657,664 L657,672 M659,676 a2,2 0 1,0 -0.1,0"/><path d="M667,670 L667,680"/><path d="M711,665 L711,680"/><path d="M718,660 L718,670 M720,674 a2,2 0 1,0 -0.1,0"/><path d="M725,655 L725,668"/></g>
<circle cx="632.8" cy="563.6" r="4.2" fill="#ffffff" stroke="#3aa878" stroke-width="2.2"/>
<circle cx="632.8" cy="671.7" r="4.2" fill="#ffffff" stroke="#3aa878" stroke-width="2.2"/>
<circle cx="743.9" cy="671.7" r="4.2" fill="#ffffff" stroke="#3aa878" stroke-width="2.2"/>
<circle cx="632.8" cy="671.7" r="4.2" fill="#1f5a6a" stroke="#3aa878" stroke-width="2.2"/><circle cx="743.9" cy="671.7" r="4.2" fill="#1f5a6a" stroke="#3aa878" stroke-width="2.2"/>
<path d="M641,662 L748,560" stroke="url(#rArrow)" stroke-width="9" stroke-linecap="butt"/>
<polygon points="766,544.4 741.7,550 762.7,571" fill="#52c884"/>
<path d="M688.4,564.3 C703,575 720,581 738.3,582 C739,625 724,660 688.4,677 C653,660 638,625 638.5,583 C657,581 674,575 688.4,564.3 Z" fill="url(#shieldOut)" stroke="#1d3a66" stroke-width="1.8"/>
<path d="M688.4,573.6 C702,582 716,588 731.6,589.7 C731,627 717,652 688.4,667.6 Z" fill="url(#shR)"/>
<path d="M688.4,573.6 C675,582 661,588 646,589.7 C646,627 660,652 688.4,667.6 Z" fill="url(#shL)"/>
<path d="M688.4,573.6 C702,582 716,588 731.6,589.7 C731,627 717,652 688.4,667.6 C660,652 646,627 646,589.7 C661,588 675,582 688.4,573.6 Z" fill="none" stroke="#1d4a66" stroke-width="1.3"/>
<path d="M665,650 L717,599" stroke="#6fd69a" stroke-width="6" opacity="0.8"/>
<polygon points="723,594 708.5,596.5 720.5,608.5" fill="#f0f6f4"/>
<path d="M700,612 L717,599" stroke="#f0f6f4" stroke-width="3.2"/>
<path d="M676.2,613 L676.2,603 C676.2,596 681.5,594.5 688.4,594.5 C695.3,594.5 700.6,596 700.6,603 L700.6,613" fill="none" stroke="#1d3a66" stroke-width="7.5"/>
<path d="M676.2,613 L676.2,603 C676.2,596 681.5,594.5 688.4,594.5 C695.3,594.5 700.6,596 700.6,603 L700.6,613" fill="none" stroke="#e6ecf4" stroke-width="4.5"/>
<rect x="668.1" y="612.5" width="39.8" height="30.5" rx="3.5" fill="url(#lockG)" stroke="#1d3a66" stroke-width="2.2"/>
<circle cx="688.6" cy="624.5" r="3.4" fill="#1d3a66"/><path d="M686.6,626 L690.6,626 L691.2,633.5 L686,633.5 Z" fill="#1d3a66"/>
<defs><linearGradient id="rbarG" x1="0" y1="0" x2="0" y2="1"><stop offset="0" stop-color="#8c6ad8"/><stop offset="1" stop-color="#6450c0"/></linearGradient><linearGradient id="rBody" x1="0" y1="0" x2="1" y2="0"><stop offset="0" stop-color="#ffffff"/><stop offset="0.6" stop-color="#eceaf6"/><stop offset="1" stop-color="#c6c2e6"/></linearGradient><linearGradient id="rFin" x1="0" y1="0" x2="0" y2="1"><stop offset="0" stop-color="#9070dc"/><stop offset="1" stop-color="#5a44b4"/></linearGradient></defs>
<g stroke-linecap="round"><line x1="377.8" y1="496.2" x2="395.4" y2="478.6" stroke="#8a6ad0" stroke-width="2" opacity="0.85"/><line x1="380.5" y1="505.5" x2="385.5" y2="500.5" stroke="#6a4ac0" stroke-width="2.2"/><line x1="379.5" y1="523.5" x2="403" y2="500" stroke="#5a3eb4" stroke-width="2.2"/><line x1="375" y1="540" x2="397" y2="522" stroke="#7a5ac8" stroke-width="2" opacity="0.8"/><line x1="374.5" y1="559" x2="396" y2="537" stroke="#7a5ac8" stroke-width="2" opacity="0.6"/><line x1="392" y1="556" x2="413" y2="535.5" stroke="#7a5ac8" stroke-width="2" opacity="0.75"/><line x1="414" y1="549.5" x2="434.5" y2="528.5" stroke="#4a3aa8" stroke-width="2.2"/><line x1="434" y1="541" x2="436" y2="539" stroke="#5a3eb4" stroke-width="2.2"/></g>
<g fill="url(#rbarG)"><rect x="448" y="536.2" width="15.8" height="18.6"/><rect x="470.6" y="519.2" width="16.2" height="35.6"/><rect x="493.5" y="495.8" width="16.2" height="59"/></g>
<g stroke="#ffffff" stroke-width="1.6"><line x1="496.5" y1="501" x2="506.5" y2="501"/><line x1="496.5" y1="508" x2="506.5" y2="508"/><line x1="496.5" y1="515" x2="506.5" y2="515"/></g>
<line x1="408" y1="554.8" x2="518.5" y2="554.8" stroke="#1d2462" stroke-width="2.2"/>
<line x1="474" y1="502" x2="510" y2="465" stroke="#8a62d8" stroke-width="2.6"/><polygon points="516.8,457.5 502,462 512,472" fill="#8a62d8"/>
<g transform="translate(463.4,462.2) rotate(42)" fill="#ffffff" stroke="#ffffff" stroke-width="7" stroke-linejoin="round" opacity="0.9"><path d="M-19,18 C-31,28 -34,45 -29,62 C-26,54 -20,48 -12,44 Z"/><path d="M19,18 C31,28 34,45 29,62 C26,54 20,48 12,44 Z"/><path d="M0,-46.5 C17,-35 24.5,-14 23.5,6 C22.5,24 18,38 12,46 L-12,46 C-18,38 -22.5,24 -23.5,6 C-24.5,-14 -17,-35 0,-46.5 Z"/></g>
<g transform="translate(463.4,462.2) rotate(42)" stroke="#2e2370" stroke-width="2" stroke-linejoin="round"><path d="M-12,57 Q0,62 12,57 C13,66 10,73 6,78 L9.5,77.5 C6,84 3,89 0,95 C-2,89 -5,84 -8,81 L-4.5,81 C-9,75 -13,67 -12,57 Z" fill="#8866d8" stroke="none"/><path d="M-6.5,59.5 Q0,62 6.5,59.5 C6.5,67 3,73 0,77 C-3,73 -6.5,67 -6.5,59.5 Z" fill="#ebe4fb" stroke="none"/><path d="M-19,18 C-31,28 -34,45 -29,62 C-26,54 -20,48 -12,44 Z" fill="url(#rFin)"/><path d="M19,18 C31,28 34,45 29,62 C26,54 20,48 12,44 Z" fill="url(#rFin)"/><path d="M0,-46.5 C17,-35 24.5,-14 23.5,6 C22.5,24 18,38 12,46 L-12,46 C-18,38 -22.5,24 -23.5,6 C-24.5,-14 -17,-35 0,-46.5 Z" fill="url(#rBody)"/><path d="M0,-46.5 C11,-39 16.5,-31 18.5,-23 Q0,-28.5 -18.5,-23 C-16.5,-31 -11,-39 0,-46.5 Z" fill="#8462d6"/><rect x="-13" y="43" width="26" height="9" rx="2" fill="#7a5cd0"/><path d="M0,20 C5,33 5,47 0,60 C-5,47 -5,33 0,20 Z" fill="#7458cc"/><circle cx="0" cy="0" r="11" fill="#6fa2ea"/></g>
<ellipse cx="461" cy="459" rx="4" ry="2.5" fill="#b8d4f8" opacity="0.8" transform="rotate(-30 461 459)"/>
<g transform="translate(688,376) scale(0.96,1) translate(-688,-376)"><defs><linearGradient id="brainG" x1="0" y1="0" x2="0" y2="1"><stop offset="0" stop-color="#e4ebf7"/><stop offset="1" stop-color="#c3d1ea"/></linearGradient></defs>
<ellipse cx="688" cy="378" rx="46" ry="42" fill="#ffffff" opacity="0.6" filter="url(#shadow)"/>
<path d="M685.6,356 L685.6,345 C685.6,338 681,334 676,334 C670,334 666,338 665.5,342 C659,341 653,346 652.5,353 C646,355 642,362 643.5,370 C641,377 644,384 650,387 C648,395 652,402 659,403 C660,410 666,415 672,414 C677,417 684,416 685.6,410 L685.6,392 Z" fill="url(#brainG)" stroke="#1f4385" stroke-width="2.6" stroke-linejoin="round"/>
<path d=" M 690.6 356.0 L 690.6 345.0 C 690.6 338.0 695.2 334.0 700.2 334.0 C 706.2 334.0 710.2 338.0 710.7 342.0 C 717.2 341.0 723.2 346.0 723.7 353.0 C 730.2 355.0 734.2 362.0 732.7 370.0 C 735.2 377.0 732.2 384.0 726.2 387.0 C 728.2 395.0 724.2 402.0 717.2 403.0 C 716.2 410.0 710.2 415.0 704.2 414.0 C 699.2 417.0 692.2 416.0 690.6 410.0 L 690.6 392.0 Z" fill="url(#brainG)" stroke="#1f4385" stroke-width="2.6" stroke-linejoin="round"/>
<g fill="none" stroke="#1f4385" stroke-width="2.4" stroke-linecap="round"><path d="M663.4,354 Q663,362 670.8,365"/><path d="M656.6,370.7 Q659,375.6 670.8,375.6"/><path d="M670.8,385.5 Q663.5,388 663.4,395"/><path d="M665.5,342 Q672,344 674,351"/><path d="M659,403 Q667,402 671,398"/><path d="M710.7,342 Q704,344 702,351"/><path d="M717,403 Q711,404 707,400"/><path d="M704.8,367.6 L709.2,367.6 L709.2,361.4"/><path d="M704.8,375.6 L715.5,375.6"/><path d="M704.8,383 L709.8,383 L709.8,388.5"/><path d="M702.4,392 L701.7,397.5"/></g>
<rect x="709.0" y="354.5" width="5.2" height="5.2" fill="#dce6f6" stroke="#1f4385" stroke-width="2"/>
<rect x="717.1" y="372.4" width="5.2" height="5.2" fill="#dce6f6" stroke="#1f4385" stroke-width="2"/>
<rect x="708.4" y="389.8" width="5.2" height="5.2" fill="#dce6f6" stroke="#1f4385" stroke-width="2"/>
<rect x="699.1" y="399.0" width="5.2" height="5.2" fill="#dce6f6" stroke="#1f4385" stroke-width="2"/>
<rect x="675.1" y="362" width="26.6" height="27.3" fill="#1e3a7e" stroke="#1a3170" stroke-width="1.2"/>
<rect x="677" y="364.8" width="9.4" height="5.6" fill="#52d3a4"/><rect x="686.4" y="364.8" width="13.2" height="5.6" fill="#5b6fd8"/>
<rect x="695.5" y="366.5" width="2.2" height="2.2" fill="#d8e0ff" opacity="0.8"/>
<rect x="677" y="372.8" width="9.4" height="5.6" fill="#52c8b0"/><rect x="686.4" y="372.8" width="13.2" height="5.6" fill="#5b6fd8"/>
<rect x="695.5" y="374.5" width="2.2" height="2.2" fill="#d8e0ff" opacity="0.8"/>
<rect x="677" y="380.8" width="9.4" height="5.6" fill="#7a9ad8"/><rect x="686.4" y="380.8" width="13.2" height="5.6" fill="#7a5ad8"/>
<rect x="695.5" y="382.5" width="2.2" height="2.2" fill="#d8e0ff" opacity="0.8"/></g>
<circle cx="688.0" cy="44.0" r="23.2" fill="url(#badgeBlue)"/>
<path d="M685.8,33 L692.3,33 L692.3,55.2 L685.8,55.2 L685.8,38.6 L681.8,38.6 L681.8,33.8 Z" fill="#ffffff"/>
<circle cx="1050.5" cy="223.5" r="23.2" fill="url(#badgePurple)"/>
<text x="1050.5" y="234.2" font-size="30" fill="#ffffff" stroke="#ffffff" stroke-width="0.6" text-anchor="middle">2</text>
<circle cx="1043.0" cy="529.5" r="23.2" fill="url(#badgeBlue)"/>
<text x="1043.0" y="540.2" font-size="30" fill="#ffffff" stroke="#ffffff" stroke-width="0.6" text-anchor="middle">3</text>
<circle cx="548.0" cy="720.0" r="23.2" fill="url(#badgeGreen)"/>
<text x="548.0" y="730.7" font-size="30" fill="#ffffff" stroke="#ffffff" stroke-width="0.6" text-anchor="middle">4</text>
<circle cx="324.0" cy="529.5" r="23.2" fill="url(#badgePurple)"/>
<text x="324.0" y="540.2" font-size="30" fill="#ffffff" stroke="#ffffff" stroke-width="0.6" text-anchor="middle">5</text>
<circle cx="302.5" cy="223.5" r="23.2" fill="url(#badgeBlue)"/>
<text x="302.5" y="234.2" font-size="30" fill="#ffffff" stroke="#ffffff" stroke-width="0.6" text-anchor="middle">6</text>
<g transform="translate(662.0,240.6) scale(1,1.060)"><text x="0" y="0" font-size="28" fill="#111e48" stroke="#111e48" stroke-width="0.55" textLength="55.0" lengthAdjust="spacingAndGlyphs">Idea</text></g>
<g transform="translate(617.3,269.4) scale(1,1.060)"><text x="0" y="0" font-size="28" fill="#111e48" stroke="#111e48" stroke-width="0.55" textLength="144.0" lengthAdjust="spacingAndGlyphs">Generation</text></g>
<g transform="translate(1028.3,282.6) scale(1,1.060)"><text x="0" y="0" font-size="28" fill="#111e48" stroke="#111e48" stroke-width="0.55" textLength="109.4" lengthAdjust="spacingAndGlyphs">Strategy</text></g>
<g transform="translate(1028.0,311.9) scale(1,1.060)"><text x="0" y="0" font-size="28" fill="#111e48" stroke="#111e48" stroke-width="0.55" textLength="174.0" lengthAdjust="spacingAndGlyphs">Development</text></g>
<g transform="translate(1021.6,588.4) scale(1,1.060)"><text x="0" y="0" font-size="28" fill="#111e48" stroke="#111e48" stroke-width="0.55" textLength="152.0" lengthAdjust="spacingAndGlyphs">Backtesting</text></g>
<g transform="translate(583.0,730.6) scale(1,1.060)"><text x="0" y="0" font-size="28" fill="#111e48" stroke="#111e48" stroke-width="0.55" textLength="215.0" lengthAdjust="spacingAndGlyphs">Risk Assessment</text></g>
<g transform="translate(201.0,588.4) scale(1,1.060)"><text x="0" y="0" font-size="28" fill="#111e48" stroke="#111e48" stroke-width="0.55" textLength="158.4" lengthAdjust="spacingAndGlyphs">Deployment</text></g>
<g transform="translate(176.8,282.0) scale(1,1.060)"><text x="0" y="0" font-size="28" fill="#111e48" stroke="#111e48" stroke-width="0.55" textLength="167.0" lengthAdjust="spacingAndGlyphs">Monitoring &amp;</text></g>
<g transform="translate(197.7,311.2) scale(1,1.060)"><text x="0" y="0" font-size="28" fill="#111e48" stroke="#111e48" stroke-width="0.55" textLength="145.5" lengthAdjust="spacingAndGlyphs">Adaptation</text></g>
<g transform="translate(548.4,450.9) scale(1,1.130)"><text x="0" y="0" font-size="15" fill="#111e48" stroke="#111e48" stroke-width="0.20" textLength="280.0" lengthAdjust="spacingAndGlyphs">AUTONOMOUS TRADING WORKFLOW:</text></g>
<g transform="translate(559.0,471.0) scale(1,1.130)"><text x="0" y="0" font-size="15" fill="#111e48" stroke="#111e48" stroke-width="0.20" textLength="260.0" lengthAdjust="spacingAndGlyphs">CONTINUOUS IMPROVEMENT LOOP</text></g>
</svg>
</body></html>
